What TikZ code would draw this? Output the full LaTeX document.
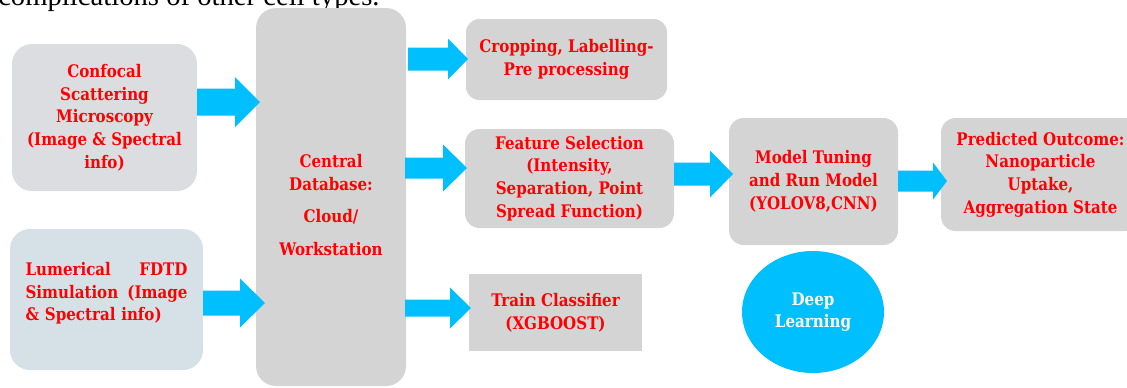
\documentclass[tikz,border=0pt]{standalone}
\usepackage{fontspec}
\setmainfont{DejaVu Serif}[FakeStretch=0.87]
\newfontfamily\capfont{Liberation Serif}
\usetikzlibrary{calc,shapes.geometric}
\definecolor{c0}{RGB}{0,191,255}
\definecolor{c1}{RGB}{255,0,0}
\definecolor{g0}{RGB}{220,221,224}
\definecolor{g1}{RGB}{212,212,212}
\definecolor{g2}{RGB}{214,225,231}
\tikzset{%
  box/.style={rounded corners=#1,fill=g1,text=c1,align=center,inner sep=0pt,
    font=\bfseries\fontsize{13}{17}\selectfont},
  box/.default=11pt,
  boxtext/.style={text=c1,align=center,inner sep=0pt,font=\bfseries\fontsize{13}{17}\selectfont}
}
\NewDocumentCommand\barrow{mmmmm}{% tail, tip, half shaft, half head, head length
  \fill[c0] ($(#1)+(0,-#3)$) -- ($(#2)+(-#5,-#3)$) -- ($(#2)+(-#5,-#4)$) -- (#2)
    -- ($(#2)+(-#5,#4)$) -- ($(#2)+(-#5,#3)$) -- ($(#1)+(0,#3)$) -- cycle;
}

\begin{document}
\begin{tikzpicture}[x=0.75pt,y=-0.75pt]
  \useasboundingbox (0,0) rectangle (1127,387);
  \node[anchor=base west,inner sep=0pt,font=\capfont\fontsize{21.5}{21.5}\selectfont] (cap) at (-2,5) {complications of other cell types.};
  %% inputs
  \node[box=15pt,fill=g0,minimum width=138.75pt,minimum height=110.25pt] (conf) at (104.5,117.5)
    {Confocal\\Scattering\\Microscopy\\(Image \& Spectral\\info)};
  \node[box=15pt,fill=g2,minimum width=144.75pt,minimum height=105.75pt] (lum) at (106.5,299.5) {};
  \node[boxtext,text width=121.5pt,align=left] (lumt) at (106.5,293.5)
    {Lumerical\hfill FDTD\\Simulation\hfill(Image\\\& Spectral info)};
  \node[box=15pt,minimum width=112.5pt,minimum height=283.5pt] (cdb) at (331,197) {};
  \node[boxtext] (cdbt) at (331,205)
    {Central\\Database:\\[7.5pt]Cloud/\\[7.5pt]Workstation};
  %% processing
  \node[box=10pt,minimum width=150.75pt,minimum height=60.75pt] (crop) at (566.5,59.5)
    {Cropping, Labelling-\\Pre processing};
  \node[box,minimum width=156.75pt,minimum height=74.25pt] (feat) at (569.5,178.5)
    {Feature Selection\\(Intensity,\\Separation, Point\\Spread Function)};
  \node[box=0pt,minimum width=129.75pt,minimum height=57.75pt] (train) at (555.5,312.5)
    {Train Classifier\\(XGBOOST)};
  \node[box,minimum width=126.75pt,minimum height=95.25pt] (model) at (813.5,181.5)
    {Model Tuning\\and Run Model\\(YOLOV8,CNN)};
  \node[box,minimum width=149.25pt,minimum height=84.75pt] (pred) at (1040.5,174.5)
    {Predicted Outcome:\\Nanoparticle\\Uptake,\\Aggregation State};
  \node[box,ellipse,fill=c0,text=white,minimum width=106.5pt,minimum height=91.5pt] (deep) at (813,312)
    {Deep\\Learning};
  %% arrows
  \coordinate (a1s) at (197,102); \coordinate (a1t) at (260,102);
  \coordinate (a2s) at (203,303); \coordinate (a2t) at (265,303);
  \coordinate (a3s) at (408,59);  \coordinate (a3t) at (468,59);
  \coordinate (a4s) at (405,168); \coordinate (a4t) at (467,168);
  \coordinate (a5s) at (405,308); \coordinate (a5t) at (471,308);
  \coordinate (a6s) at (674,174); \coordinate (a6t) at (733,174);
  \coordinate (a7s) at (898,181); \coordinate (a7t) at (947,181);
  \barrow{a1s}{a1t}{13.5}{25}{25}
  \barrow{a2s}{a2t}{12.5}{24.5}{25}
  \barrow{a3s}{a3t}{11.5}{20.5}{20}
  \barrow{a4s}{a4t}{10.5}{23.5}{24}
  \barrow{a5s}{a5t}{8.5}{20.5}{21}
  \barrow{a6s}{a6t}{11.5}{23.5}{23}
  \barrow{a7s}{a7t}{10.5}{18.5}{14}
\end{tikzpicture}
\end{document}
